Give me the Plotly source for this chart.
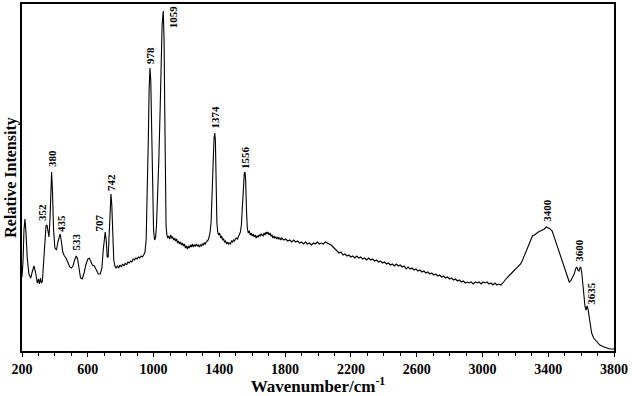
import plotly.graph_objects as go

wavenumber = [
200,206,212,218,224,232,242,253,262,273,282,293,300,306,312,318,324,332,340,346,352,358,364,370,375,380,385,392,400,410,418,432,440,448,458,468,478,490,500,510,520,530,538,546,556,566,576,588,600,609,618,628,640,652,664,676,686,694,700,706,712,718,724,730,736,741,746,752,758,765,772,
780,788,796,804,812,820,828,836,844,852,860,868,876,884,892,900,908,916,924,932,940,948,955,962,968,973,978,983,988,994,1000,1006,1012,1018,1024,1032,1040,1046,1052,1059,1064,1068,1072,1076,1080,1086,
1092,1098,1104,1110,1116,1122,1128,1134,1140,1146,1152,1158,1164,1170,1176,1182,1188,1194,1200,1206,1212,1218,1224,1230,1236,1242,1248,1254,1260,1266,1272,1278,1284,1290,1296,1302,1308,1314,1320,1326,1332,1338,1344,1350,1356,1362,1368,1372,1376,1380,1385,1390,1396,1402,1408,1414,1420,1426,1432,1438,1444,1450,1456,1462,1468,1474,1480,1486,1492,1498,1504,1510,1516,1522,1528,1534,1540,1546,1552,1556,1560,1565,1570,1576,1582,1588,1594,1600,1606,1612,1618,1624,1630,1636,1642,1648,1654,1660,1666,1672,1678,1684,1690,1696,1702,1708,1714,1720,1726,1732,1738,1744,1750,1756,1762,1768,1774,
1780,1792,1804,1816,1828,1840,1852,1864,1876,1888,1900,1912,1924,1936,1948,1960,1972,1984,1996,2008,2020,2032,2044,2056,2068,2080,2092,2104,2116,2128,2140,2152,2164,2176,2188,2200,2212,2224,2236,2248,2260,2272,2284,2296,2308,2320,2332,2344,2356,2368,2380,2392,2404,2416,2428,2440,2452,2464,2476,2488,2500,2512,2524,2536,2548,2560,2572,2584,2596,2608,2620,2632,2644,2656,2668,2680,2692,2704,2716,2728,2740,2752,2764,2776,2788,2800,2812,2824,2836,2848,2860,2872,2884,2896,2908,2920,2932,2944,2956,2968,2980,2992,3004,3016,3028,3040,3052,3064,3076,3088,3100,3112,3124,3136,3148,3160,3172,3184,3196,3208,3220,3232,3244,3256,3268,3280,3292,3304,3316,3328,3340,3352,3364,3376,3388,3400,3412,3424,3436,3448,3460,3472,3484,3496,3508,3520,3528,3536,3548,3558,3566,3574,3580,3587,3592,3598,3604,3610,3618,3624,3630,3636,3642,3652,3664,3676,3690,3714,3740,3775,3800,
]

intensity = [
74,89,121,132,119,93,77,73,79,85,79,68,72,67,73,68,70,89,113,125,126,121,114,131,159,179,161,121,103,101,109,117,109,99,95,93,89,84,83,85,91,95,92,81,73,72,77,86,92,93,89,86,85,81,77,77,83,101,115,119,111,94,94,121,146,157,146,111,91,85,83,
85,83,86,84,87,85,88,86,89,88,90,89,92,91,93,92,94,93,95,94,96,99,111,151,211,261,283,271,221,161,121,111,113,126,151,191,241,291,326,340,311,241,161,126,117,113,
115,112,116,113,114,111,113,110,112,108,110,107,109,106,108,105,107,103,105,102,105,103,106,104,107,104,106,105,107,105,106,104,106,105,107,106,108,107,109,110,111,114,119,129,151,186,213,218,211,166,129,119,116,118,113,115,111,112,109,110,107,109,107,108,107,110,109,111,110,112,113,112,115,116,119,126,141,166,178,179,171,141,123,118,120,116,118,115,117,114,116,113,115,114,116,115,117,116,115,118,116,119,117,119,116,118,115,116,113,115,113,114,112,114,112,113,111,
113,111,112,110,111,109,111,109,110,108,109,107,109,107,108,106,108,107,109,107,108,107,109,108,107,106,104,102,100,98,99,96,97,95,96,94,95,93,95,93,94,92,93,91,93,91,92,90,91,89,90,88,89,87,88,86,87,85,87,85,86,84,85,82,84,82,83,81,82,80,81,79,80,78,79,77,78,76,77,75,76,74,75,73,74,72,73,71,72,70,71,69,70,68,69,68,69,67,69,68,69,67,69,68,69,67,68,66,68,66,67,66,68,71,73,75,77,79,81,83,84,87,91,96,101,107,112,115,116,118,119,120,121,122,124,123,122,120,114,108,101,96,90,83,77,71,69,70,74,77,82,84,81,80,83,84,78,66,49,44,41,45,42,29,18,13,10,6,4,2,2,
]

peak_labels = ["352", "380", "435", "533", "707", "742", "978", "1059",
               "1374", "1556", "3400", "3600", "3635"]
label_x = [322, 382, 437, 531, 671, 741, 978, 1120, 1371, 1556, 3391, 3585, 3658]
label_y = [138, 193, 128, 109, 128, 169, 296, 334, 234, 194, 141, 101, 58]

tick_vals = [200, 600, 1000, 1400, 1800, 2200, 2600, 3000, 3400, 3800]
tick_text = [str(v) for v in tick_vals]

FONT = "Liberation Serif"

fig = go.Figure()
fig.add_trace(go.Scatter(
    x=wavenumber, y=intensity, mode="lines",
    line=dict(color="black", width=1.1),
    showlegend=False, hoverinfo="skip",
))

for txt, lx, ly in zip(peak_labels, label_x, label_y):
    fig.add_annotation(
        x=lx, y=ly, text="<b>%s</b>" % txt, showarrow=False,
        textangle=-90, font=dict(family=FONT, size=11, color="black"),
        xanchor="center", yanchor="middle",
    )

fig.update_layout(
    width=632, height=396,
    margin=dict(l=22, r=18, t=4, b=45, autoexpand=False),
    paper_bgcolor="white", plot_bgcolor="white",
    font=dict(family=FONT, color="black"),
    xaxis=dict(
        range=[200, 3800], tickvals=tick_vals, ticktext=tick_text,
        ticks="outside", ticklen=4, tickwidth=1, tickcolor="black",
        minor=dict(dtick=100, tick0=200, ticks="outside", ticklen=3, tickwidth=1, tickcolor="black"),
        showgrid=False, zeroline=False, automargin=False,
        showline=True, linecolor="black", linewidth=1.5, mirror=True,
        tickfont=dict(family=FONT, size=14, color="black", weight="bold"),
        title=dict(text="<b>Wavenumber/cm<sup>-1</sup></b>", font=dict(family=FONT, size=17, color="black"), standoff=2),
    ),
    yaxis=dict(
        range=[0, 347], showticklabels=False, ticks="",
        showgrid=False, zeroline=False, automargin=False,
        showline=True, linecolor="black", linewidth=1.5, mirror=True,
        title=dict(text="<b>Relative Intensity</b>", font=dict(family=FONT, size=16, color="black"), standoff=0),
    ),
)

fig.write_html(
    "out.html",
    config={"displayModeBar": False},
    post_script="document.body.style.margin='0';document.body.style.padding='0';",
)
